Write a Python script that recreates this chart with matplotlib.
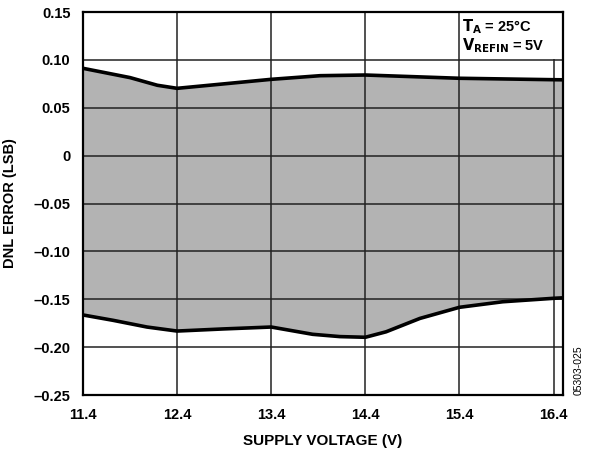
# DNL error vs supply voltage - shaded band between max and min DNL
import numpy as np
import matplotlib.pyplot as plt

plt.rcParams['font.family'] = ['Liberation Sans', 'DejaVu Sans']

# upper DNL curve (max)
upper_v = [11.4, 11.9, 12.19, 12.4, 12.88, 13.4, 13.92, 14.4, 14.9, 15.4, 16.4, 16.5]
upper_dnl = [0.0912, 0.0815, 0.0735, 0.0703, 0.0748, 0.0797, 0.0835, 0.0842, 0.0825, 0.0808, 0.0793, 0.0792]

# lower DNL curve (min)
lower_v = [11.4, 11.72, 12.08, 12.4, 12.89, 13.4, 13.84, 14.13, 14.4, 14.62, 14.98, 15.4, 15.86, 16.4, 16.5]
lower_dnl = [-0.1664, -0.172, -0.179, -0.1832, -0.181, -0.179, -0.1866, -0.189, -0.1897, -0.184, -0.170, -0.1584, -0.1526, -0.149, -0.1485]

x_ticks = [11.4, 12.4, 13.4, 14.4, 15.4, 16.4]
x_labels = ['11.4', '12.4', '13.4', '14.4', '15.4', '16.4']
y_ticks = [0.15, 0.10, 0.05, 0, -0.05, -0.10, -0.15, -0.20, -0.25]
y_labels = ['0.15', '0.10', '0.05', '0', '\u20130.05', '\u20130.10', '\u20130.15', '\u20130.20', '\u20130.25']

fig = plt.figure(figsize=(5.91, 4.5), dpi=100)
ax = fig.add_axes([0.1404, 0.1222, 0.8122, 0.8511])

# shaded band: both curves share the same voltage grid for filling
band_v = np.array(sorted(set(upper_v) | set(lower_v)))
ax.fill_between(band_v, np.interp(band_v, upper_v, upper_dnl),
                np.interp(band_v, lower_v, lower_dnl), color='#b3b3b3', lw=0, zorder=1)

# grid lines
for xt in x_ticks:
    ax.axvline(xt, color='#222222', lw=1.1, zorder=2)
for yt in y_ticks:
    ax.axhline(yt, color='#222222', lw=1.1, zorder=2)

ax.plot(upper_v, upper_dnl, color='black', lw=2.6, zorder=4)
ax.plot(lower_v, lower_dnl, color='black', lw=2.6, zorder=4)

ax.set_xlim(11.4, 16.5)
ax.set_ylim(-0.25, 0.15)
ax.set_xticks(x_ticks)
ax.set_xticklabels(x_labels, fontsize=10.5, fontweight='bold')
ax.set_yticks(y_ticks)
ax.set_yticklabels(y_labels, fontsize=10.5, fontweight='bold')
ax.tick_params(axis='x', length=0, pad=9)
ax.tick_params(axis='y', length=0, pad=9)
for s in ax.spines.values():
    s.set_linewidth(1.6)
    s.set_zorder(5)

ax.set_xlabel('SUPPLY VOLTAGE (V)', fontsize=11, fontweight='bold', labelpad=9)
ax.set_ylabel('DNL ERROR (LSB)', fontsize=10.5, fontweight='bold', labelpad=12)

# condition box in the top right corner
ax.fill_between([15.42, 16.5], 0.1005, 0.15, color='white', lw=0, zorder=3)
ax.text(15.43, 0.145, '$\\mathbf{T_A}$ = 25\u00b0C\n$\\mathbf{V_{REFIN}}$ = 5V', fontsize=10.5,
        fontweight='bold', va='top', ha='left', zorder=6, linespacing=1.05)

fig.text(0.979, 0.178, '05303-025', rotation=90, fontsize=7.5, ha='center', va='center')

plt.savefig('out.png')
